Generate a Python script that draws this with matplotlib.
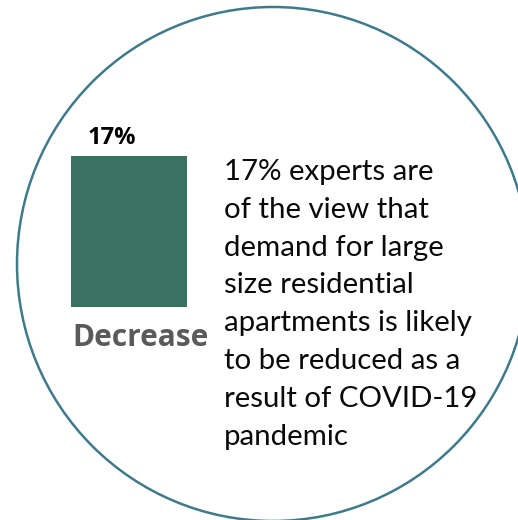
import matplotlib
matplotlib.use("Agg")
import matplotlib.pyplot as plt
from matplotlib.patches import Ellipse

categories = ["Decrease"]
values = [17]
value_labels = ["17%"]
note_lines = [
    "17% experts are",
    "of the view that",
    "demand for large",
    "size residential",
    "apartments is likely",
    "to be reduced as a",
    "result of COVID-19",
    "pandemic",
]

W, H = 518, 520
fig = plt.figure(figsize=(W / 100, H / 100), dpi=100)
fig.patch.set_facecolor("white")

# background layer in pixel coords (y down)
bg = fig.add_axes([0, 0, 1, 1])
bg.set_xlim(0, W)
bg.set_ylim(H, 0)
bg.axis("off")
bg.add_patch(Ellipse((273, 264), 512, 514, fill=False, ec="#3E7A8A", lw=1.8, zorder=1))

for i, line in enumerate(note_lines):
    bg.text(224, 180 + i * 37.8, line, fontsize=21.2, family=["Lato", "DejaVu Sans"],
            color="#0A0A0A", ha="left", va="baseline")

# the bar itself
x0, x1, y0, y1 = 71, 187, 156, 307
ax = fig.add_axes([x0 / W, 1 - y1 / H, (x1 - x0) / W, (y1 - y0) / H])
ax.bar(categories, values, width=1.0, color="#3A7262", edgecolor="none")
ax.set_xlim(-0.5, 0.5)
ax.set_ylim(0, max(values))
ax.axis("off")

for i, (c, v, lab) in enumerate(zip(categories, values, value_labels)):
    bg.text(112, 144, lab, fontsize=17, fontweight="bold", family=["Open Sans", "DejaVu Sans"],
            color="black", ha="center", va="baseline")
    bg.text(72, 346, c, fontsize=21.5, fontweight="bold", family=["Open Sans", "DejaVu Sans"],
            color="#5A5A5A", ha="left", va="baseline")

fig.savefig("out.png", dpi=100)
